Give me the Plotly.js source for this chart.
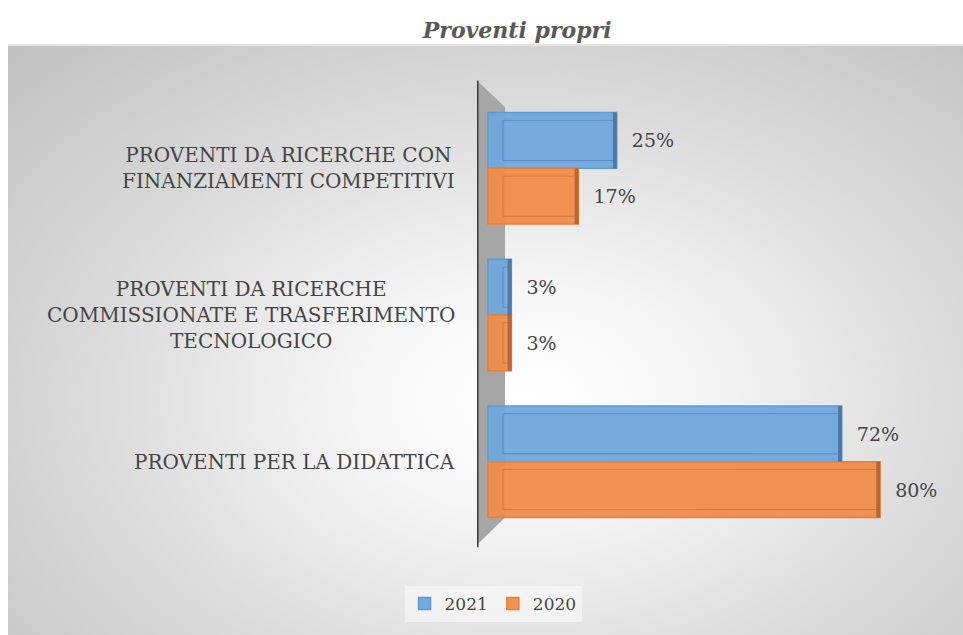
<!DOCTYPE html>
<html>
<head>
<meta charset="utf-8">
<script src="https://cdn.plot.ly/plotly-3.0.1.min.js"></script>
<style>
  html, body { margin: 0; padding: 0; background: #ffffff; }
  #wrap { position: relative; width: 963px; height: 635px; overflow: hidden; }
  #bg { position: absolute; left: 8px; top: 44px; width: 955px; height: 591px;
        background: radial-gradient(ellipse farthest-corner at 54% 60%, #ffffff 0%, #f6f6f6 22%, #dadada 60%, #c0c0c0 100%);
        border-top: 2px solid #e4e4e4; box-sizing: border-box; }
  #chart { position: absolute; left: 0; top: 0; width: 963px; height: 635px; }
</style>
</head>
<body>
<div id="wrap">
  <div id="bg"></div>
  <div id="chart"></div>
</div>
<script>
// ---- data ----
const categories = [
  "PROVENTI DA RICERCHE CON<br>FINANZIAMENTI COMPETITIVI",
  "PROVENTI DA RICERCHE<br>COMMISSIONATE E TRASFERIMENTO<br>TECNOLOGICO",
  "PROVENTI PER LA DIDATTICA"
];
const seriesNames = ["2021", "2020"];
const values2021 = [25, 3, 72];
const values2020 = [17, 3, 80];

// ---- styling ----
const FONT = "DejaVu Serif";
const blueFill = "rgba(112,166,220,0.95)", blueLine = "#5b9bd5", blueDark = "#46698f";
const orangeFill = "rgba(240,140,76,0.95)", orangeLine = "#ed7d31", orangeDark = "#a65a2c";
const BW = 0.38;       // bar thickness (category units)
const FRONT0 = -1.9;   // front face start (3D look)
const BACK0 = 1.25;    // back face start
const SIDE = 0.8;      // visible side face

function frontTrace(name, vals, fill, line, off) {
  return {
    type: "bar", orientation: "h", name: name,
    y: categories, x: vals.map(v => v - FRONT0), base: FRONT0,
    customdata: vals,
    offset: off, width: BW,
    marker: { color: fill, line: { color: line, width: 1.5 } },
    texttemplate: "\u00a0\u00a0%{customdata}%", textposition: "outside", cliponaxis: false,
    textfont: { family: FONT, size: 19, color: "#454545" },
    hoverinfo: "name"
  };
}
function backTrace(vals, line, off) {
  const inner = BW * 0.72;
  return {
    type: "bar", orientation: "h", showlegend: false, hoverinfo: "skip",
    y: categories, x: vals.map(v => Math.max(v - BACK0 - SIDE * 0.5, 0.3)), base: BACK0,
    offset: off + (BW - inner) / 2, width: inner,
    marker: { color: "rgba(0,0,0,0)", line: { color: line, width: 1 } }
  };
}
function sideTrace(vals, dark, off) {
  return {
    type: "bar", orientation: "h", showlegend: false, hoverinfo: "skip",
    y: categories, x: vals.map(() => SIDE), base: vals.map(v => v - SIDE),
    offset: off, width: BW,
    marker: { color: dark, opacity: 0.75, line: { width: 0 } }
  };
}

const data = [
  frontTrace(seriesNames[0], values2021, blueFill, blueLine, -BW),
  frontTrace(seriesNames[1], values2020, orangeFill, orangeLine, 0),
  sideTrace(values2021, blueDark, -BW),
  sideTrace(values2020, orangeDark, 0),
  backTrace(values2021, "rgba(70,120,180,0.6)", -BW),
  backTrace(values2020, "rgba(200,100,40,0.6)", 0)
];

const annotations = categories.map(c => ({
  xref: "paper", yref: "y", x: -0.042, y: c,
  xanchor: "right", yanchor: "middle", align: "center",
  text: c, showarrow: false,
  font: { family: FONT, size: 20, color: "#454545" }
}));

const layout = {
  width: 963, height: 635,
  margin: { l: 477, r: 13, t: 94.5, b: 99.5 },
  paper_bgcolor: "rgba(0,0,0,0)", plot_bgcolor: "rgba(0,0,0,0)",
  barmode: "overlay",
  font: { family: FONT },
  title: {
    text: "<b><i>Proventi propri</i></b>",
    x: 0.537, xanchor: "center", xref: "container",
    y: 0.953, yanchor: "middle", yref: "container",
    font: { family: FONT, size: 22, color: "#595959" }
  },
  xaxis: { range: [-4.18, 94.6], visible: false, fixedrange: true },
  yaxis: { type: "category", range: [2.5, -0.5], showticklabels: false,
           showgrid: false, zeroline: false, showline: false, fixedrange: true },
  showlegend: true,
  legend: {
    orientation: "h", xref: "container", yref: "container",
    x: 0.512, xanchor: "center", y: 0.049, yanchor: "middle",
    bgcolor: "rgba(250,250,250,0.6)", traceorder: "normal",
    font: { family: FONT, size: 17, color: "#454545" },
    itemwidth: 30
  },
  annotations: annotations,
  shapes: [
    { type: "path", xref: "x", yref: "paper", layer: "below",
      path: "M -4.18,1.033 L 1.67,0.972 L 1.67,0.04 L -4.18,-0.022 Z",
      fillcolor: "#a6a6a6", line: { width: 0 } },
    { type: "line", xref: "x", yref: "paper", layer: "above",
      x0: -4.18, x1: -4.18, y0: -0.028, y1: 1.033,
      line: { color: "#3a3a3a", width: 3 } }
  ]
};

Plotly.newPlot("chart", data, layout, { displayModeBar: false, staticPlot: true });
</script>
</body>
</html>
